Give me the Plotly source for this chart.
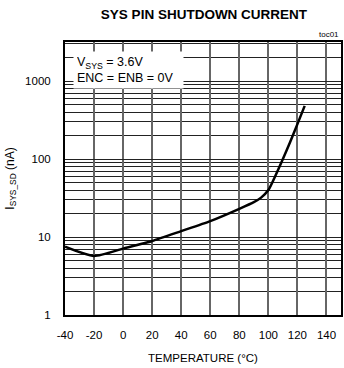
import plotly.graph_objects as go

temps = [-40, -20, 0, 20, 40, 60, 80, 90, 95, 100, 105, 110, 115, 120, 125]
current_na = [7.5, 5.7, 7.1, 8.9, 11.9, 16, 23, 28, 32, 40, 62, 100, 165, 280, 480]

x_ticks = [-40, -20, 0, 20, 40, 60, 80, 100, 120, 140]
y_ticks = [1, 10, 100, 1000]

font = "Liberation Sans, Arial, sans-serif"

fig = go.Figure()
fig.add_trace(go.Scatter(x=temps, y=current_na, mode="lines",
                         line=dict(color="black", width=2.5, shape="spline", smoothing=0.6),
                         showlegend=False, hoverinfo="skip"))

fig.update_layout(
    width=344, height=368,
    margin=dict(l=65, r=1, t=42, b=53),
    paper_bgcolor="white", plot_bgcolor="white",
    font=dict(family=font, size=11.5, color="black"),
    title=dict(text="<b>SYS PIN SHUTDOWN CURRENT</b>", x=204/344, xanchor="center",
               y=1 - 14/368, yanchor="middle", font=dict(size=13.5, family=font)),
)
fig.update_xaxes(range=[-40, 150], tickvals=x_ticks, ticktext=[str(v) for v in x_ticks],
                 showgrid=True, gridcolor="#666", gridwidth=1.6,
                 showline=True, linecolor="black", linewidth=2, mirror=True,
                 ticks="", zeroline=False, ticklabelstandoff=8,
                 title=dict(text="TEMPERATURE (°C)", font=dict(size=11.5), standoff=14))
fig.update_yaxes(type="log", range=[0, 3.5], tickvals=y_ticks, ticktext=[str(v) for v in y_ticks],
                 showgrid=True, gridcolor="#222", gridwidth=1,
                 minor=dict(dtick="D1", showgrid=True, gridcolor="#222", gridwidth=1, ticks=""),
                 showline=True, linecolor="black", linewidth=2, mirror=True,
                 ticks="", zeroline=False, ticklabelstandoff=10,
                 title=dict(text="I<sub>SYS_SD</sub> (nA)", font=dict(size=12), standoff=8))

fig.add_annotation(xref="paper", yref="paper", x=(73 - 65) / 278, y=1 - 9 / 273,
                   xanchor="left", yanchor="top", align="left", showarrow=False,
                   text="V<sub>SYS</sub> = 3.6V<br>ENC = ENB = 0V",
                   bgcolor="white", borderpad=3, width=103,
                   font=dict(size=12.5, family=font))
fig.add_annotation(xref="paper", yref="paper", x=1, y=1, xanchor="right", yanchor="bottom",
                   text="toc01", showarrow=False, font=dict(size=8, family=font), yshift=1)

fig.write_html("out.html")
